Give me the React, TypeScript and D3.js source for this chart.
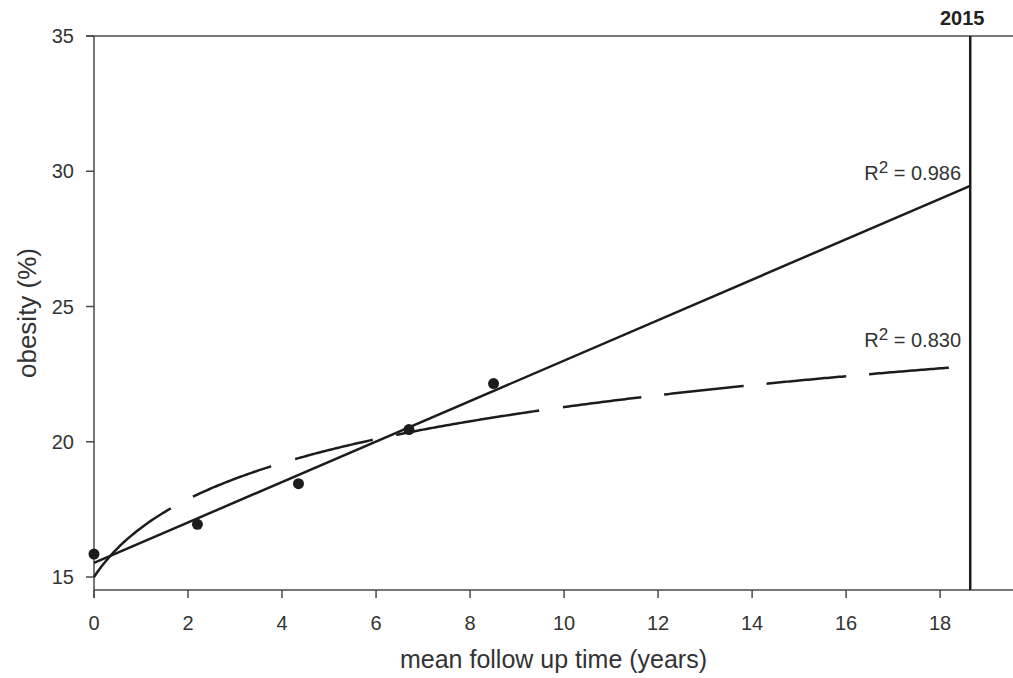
import React, { useRef, useEffect } from 'react';
import * as d3 from 'd3';

// observed points (mean follow up time, obesity %)
const followUp = [0, 2.2, 4.35, 6.7, 8.5];
const obesity = [15.85, 16.95, 18.45, 20.45, 22.15];

// fitted curves
const linearFit = { intercept: 15.52, slope: 0.748, end: 18.64, r2: '0.986' };
const logFit = { a: 15.0, b: 2.62, end: 18.28, r2: '0.830' };

const xTicks = [0, 2, 4, 6, 8, 10, 12, 14, 16, 18];
const yTicks = [15, 20, 25, 30, 35];
const markerYear = 18.64;
const markerLabel = '2015';

const W = 1013;
const H = 678;

const App = () => {
  const ref = useRef<SVGSVGElement>(null);

  useEffect(() => {
    const svg = d3.select(ref.current);
    svg.selectAll('*').remove();

    const left = 94, right = 1013, top = 36, bottom = 590;
    const x = d3.scaleLinear().domain([0, 19.55]).range([left, right]);
    const y = d3.scaleLinear().domain([14.52, 35]).range([bottom, top]);
    const axisColor = '#4a4a4a';
    const ink = '#1c1c1c';
    const font = 'Liberation Sans, Arial, sans-serif';

    // frame: top and bottom lines, left axis
    svg.append('line').attr('x1', left - 8).attr('x2', right).attr('y1', top).attr('y2', top)
      .attr('stroke', axisColor).attr('stroke-width', 1.5);
    svg.append('line').attr('x1', left).attr('x2', right).attr('y1', bottom).attr('y2', bottom)
      .attr('stroke', axisColor).attr('stroke-width', 1.5);
    svg.append('line').attr('x1', left).attr('x2', left).attr('y1', top).attr('y2', bottom + 8)
      .attr('stroke', axisColor).attr('stroke-width', 1.5);

    // x ticks
    const xg = svg.append('g');
    xg.selectAll('line').data(xTicks).enter().append('line')
      .attr('x1', d => x(d)).attr('x2', d => x(d))
      .attr('y1', bottom).attr('y2', bottom + 8)
      .attr('stroke', axisColor).attr('stroke-width', 1.5);
    xg.selectAll('text').data(xTicks).enter().append('text')
      .attr('x', d => x(d)).attr('y', 630)
      .attr('text-anchor', 'middle')
      .attr('font-family', font).attr('font-size', 20).attr('fill', '#333')
      .text(d => d);

    // y ticks
    const yg = svg.append('g');
    yg.selectAll('line').data(yTicks).enter().append('line')
      .attr('x1', left - 8).attr('x2', left)
      .attr('y1', d => y(d)).attr('y2', d => y(d))
      .attr('stroke', axisColor).attr('stroke-width', 1.5);
    yg.selectAll('text').data(yTicks).enter().append('text')
      .attr('x', 74).attr('y', d => y(d)).attr('dy', '0.36em')
      .attr('text-anchor', 'end')
      .attr('font-family', font).attr('font-size', 20).attr('fill', '#333')
      .text(d => d);

    // axis titles
    svg.append('text')
      .attr('x', (left + right) / 2).attr('y', 668)
      .attr('text-anchor', 'middle')
      .attr('font-family', font).attr('font-size', 25).attr('fill', '#333')
      .text('mean follow up time (years)');
    svg.append('text')
      .attr('transform', `translate(36, ${(top + bottom) / 2}) rotate(-90)`)
      .attr('text-anchor', 'middle')
      .attr('font-family', font).attr('font-size', 26).attr('fill', '#333')
      .text('obesity (%)');

    // 2015 marker
    svg.append('line').attr('x1', x(markerYear)).attr('x2', x(markerYear))
      .attr('y1', top).attr('y2', bottom)
      .attr('stroke', ink).attr('stroke-width', 2.5);
    svg.append('text')
      .attr('x', x(markerYear) - 8).attr('y', 25)
      .attr('text-anchor', 'middle')
      .attr('font-family', font).attr('font-size', 20).attr('font-weight', 'bold').attr('fill', '#222')
      .text(markerLabel);

    const line = d3.line<number>()
      .x(d => x(d))
      .curve(d3.curveLinear);

    // linear fit
    svg.append('path')
      .datum([0, linearFit.end])
      .attr('d', line.y(d => y(linearFit.intercept + linearFit.slope * d)))
      .attr('fill', 'none').attr('stroke', ink).attr('stroke-width', 2.5);

    // log fit, dashed
    const logXs = d3.range(0, logFit.end, 0.05).concat([logFit.end]);
    svg.append('path')
      .datum(logXs)
      .attr('d', line.y(d => y(logFit.a + logFit.b * Math.log(d + 1))))
      .attr('fill', 'none').attr('stroke', ink).attr('stroke-width', 2.5)
      .attr('stroke-dasharray', '104 25 84 25 80 24 145 24 79 23 80 23 80 23 80');

    // data points
    svg.append('g').selectAll('circle').data(followUp).enter().append('circle')
      .attr('cx', d => x(d)).attr('cy', (d, i) => y(obesity[i]))
      .attr('r', 5.5).attr('fill', ink);

    // R² labels
    const r2Label = (value: string, yPos: number) => {
      const t = svg.append('text')
        .attr('x', 961).attr('y', yPos)
        .attr('text-anchor', 'end')
        .attr('font-family', font).attr('font-size', 20).attr('fill', '#333');
      t.append('tspan').text('R');
      t.append('tspan').attr('font-size', 17).attr('dy', -7).text('2');
      t.append('tspan').attr('dy', 7).text(` = ${value}`);
    };
    r2Label(linearFit.r2, 180);
    r2Label(logFit.r2, 347);
  }, []);

  return (
    <svg ref={ref} width={W} height={H}
      style={{ position: 'absolute', left: 0, top: 0, background: '#fff' }} />
  );
};

export default App;
